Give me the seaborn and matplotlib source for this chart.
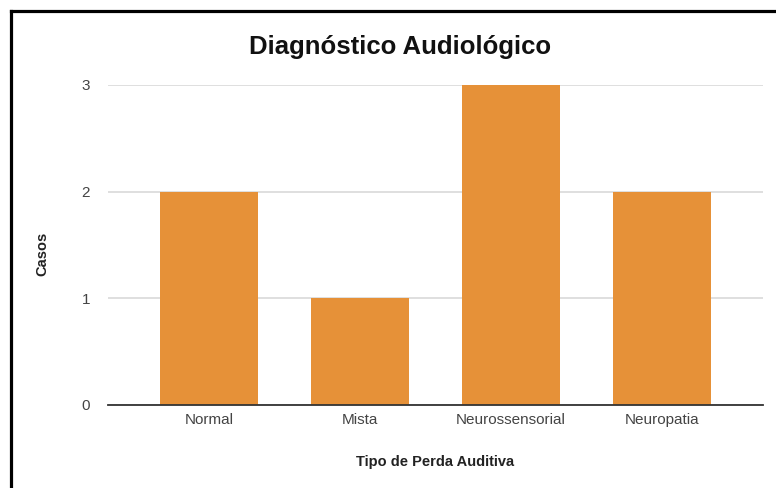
import matplotlib
matplotlib.use("Agg")
import matplotlib.pyplot as plt
from matplotlib.lines import Line2D
import seaborn as sns
import pandas as pd

categories = ["Normal", "Mista", "Neurossensorial", "Neuropatia"]
casos = [2, 1, 3, 2]
y_ticks = [0, 1, 2, 3]

sns.set_theme(style="white")
plt.rcParams["font.family"] = ["Liberation Sans", "DejaVu Sans"]

df = pd.DataFrame({"Tipo de Perda Auditiva": categories, "Casos": casos})

W, H = 776, 488
fig = plt.figure(figsize=(W / 100, H / 100), dpi=100)
ax_left, ax_right, ax_top, ax_bottom = 108, 763, 85, 405
ax = fig.add_axes([ax_left / W, 1 - ax_bottom / H,
                   (ax_right - ax_left) / W, (ax_bottom - ax_top) / H])

sns.barplot(data=df, x="Tipo de Perda Auditiva", y="Casos", color="#E69138",
            saturation=1, width=0.65, linewidth=0, edgecolor="none",
            ax=ax, zorder=3)

ax.set_xlim(-0.67, 3.67)
ax.set_ylim(0, 3)
ax.set_yticks(y_ticks)
ax.yaxis.grid(True, color="#d9d9d9", linewidth=1.2, zorder=0)
ax.set_axisbelow(True)
for s in ["top", "right", "left"]:
    ax.spines[s].set_visible(False)
ax.spines["bottom"].set_color("#333333")
ax.spines["bottom"].set_linewidth(1.3)
ax.spines["bottom"].set_zorder(4)
ax.tick_params(axis="both", length=0, labelsize=11, labelcolor="#444444")
ax.tick_params(axis="y", pad=13)
ax.tick_params(axis="x", pad=6)

ax.set_xlabel("Tipo de Perda Auditiva", fontsize=10.5, fontweight="bold",
              color="#222222", labelpad=20)
ax.set_ylabel("Casos", fontsize=10.5, fontweight="bold", color="#222222",
              va="center")
ax.yaxis.set_label_coords((42 - ax_left) / (ax_right - ax_left),
                          (ax_bottom - 254) / (ax_bottom - ax_top))
fig.text(400 / W, 1 - 47 / H, "Diagnóstico Audiológico", ha="center",
         va="center", fontsize=18.5, fontweight="bold", color="#111111")

# frame around the chart card
lw = 2.3
fig.add_artist(Line2D([10.5 / W, 10.5 / W], [0, 1 - 10.5 / H],
                      transform=fig.transFigure, color="black", linewidth=lw,
                      solid_capstyle="projecting"))
fig.add_artist(Line2D([10.5 / W, 1], [1 - 10.5 / H, 1 - 10.5 / H],
                      transform=fig.transFigure, color="black", linewidth=lw,
                      solid_capstyle="projecting"))

fig.savefig("out.png", dpi=100)
